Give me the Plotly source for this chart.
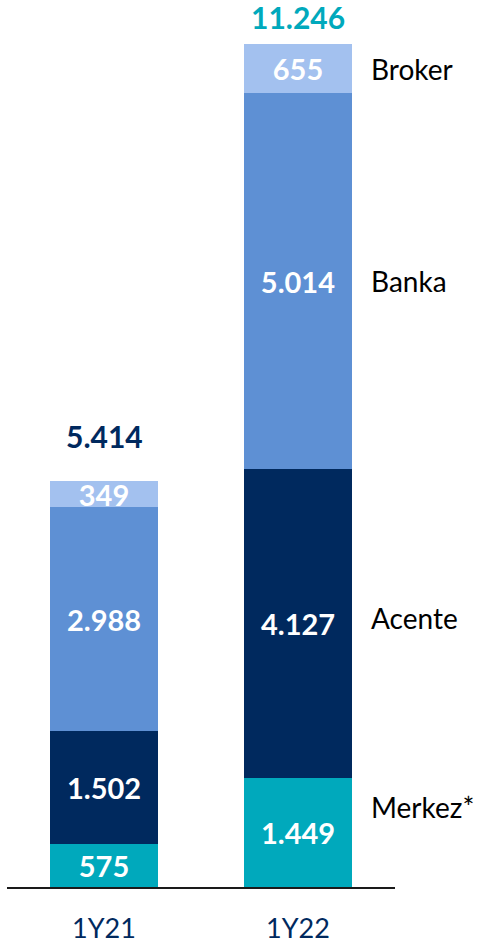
import plotly.graph_objects as go

categories = ["1Y21", "1Y22"]
series_names = ["Merkez*", "Acente", "Banka", "Broker"]
merkez = [575, 1449]
acente = [1502, 4127]
banka = [2988, 5014]
broker = [349, 655]
totals = [5414, 11246]

colors = ["#00A9BC", "#00295E", "#5E90D4", "#A3C1EF"]
total_colors = ["#00295E", "#00A9BC"]
total_shifts = [26, 8]
values = [merkez, acente, banka, broker]

FONT = "Lato"

def fmt(v):
    return f"{v:,}".replace(",", ".")

fig = go.Figure()
for name, vals, col in zip(series_names, values, colors):
    fig.add_trace(go.Bar(
        x=categories, y=vals, name=name,
        marker=dict(color=col, line=dict(width=0)),
        text=[fmt(v) for v in vals], textposition="inside",
        insidetextanchor="middle", constraintext="none",
        textfont=dict(family=FONT, size=29, color="white", weight="bold"),
        width=0.557,
    ))

# totals above bars
for c, t, tc, ys in zip(categories, totals, total_colors, total_shifts):
    fig.add_annotation(x=c, y=t, text=f"<b>{fmt(t)}</b>", showarrow=False,
                       yanchor="bottom", yshift=ys, borderpad=0,
                       font=dict(family=FONT, size=30, color=tc))

# series labels at right of 1Y22 bar
cum = 0
shifts = {"Merkez*": 26, "Broker": 0, "Banka": 0, "Acente": 6}
for name, vals in zip(series_names, values):
    v = vals[1]
    mid = cum + v / 2
    cum += v
    fig.add_annotation(x=1.366, y=mid, xref="x", yref="y", text=name,
                       showarrow=False, xanchor="left", yanchor="middle",
                       yshift=shifts.get(name, 0),
                       font=dict(family=FONT, size=28, color="black"))

fig.update_layout(
    barmode="stack",
    width=482, height=943,
    margin=dict(l=7, r=87, t=0, b=56),
    plot_bgcolor="white", paper_bgcolor="white",
    showlegend=False,
    xaxis=dict(range=[-0.5, 1.5], showline=True, linecolor="#1a1a1a", linewidth=1.5,
               ticks="", ticklabelstandoff=17, automargin=False,
               tickfont=dict(family=FONT, size=27, color="#00295E"),
               showgrid=False, fixedrange=True),
    yaxis=dict(range=[0, 11833], visible=False, showgrid=False, fixedrange=True,
               automargin=False),
)
fig.update_traces(cliponaxis=False)

fig.write_html("out.html", config={"displayModeBar": False},
               post_script="document.body.style.margin='0';document.body.style.overflow='hidden';")
